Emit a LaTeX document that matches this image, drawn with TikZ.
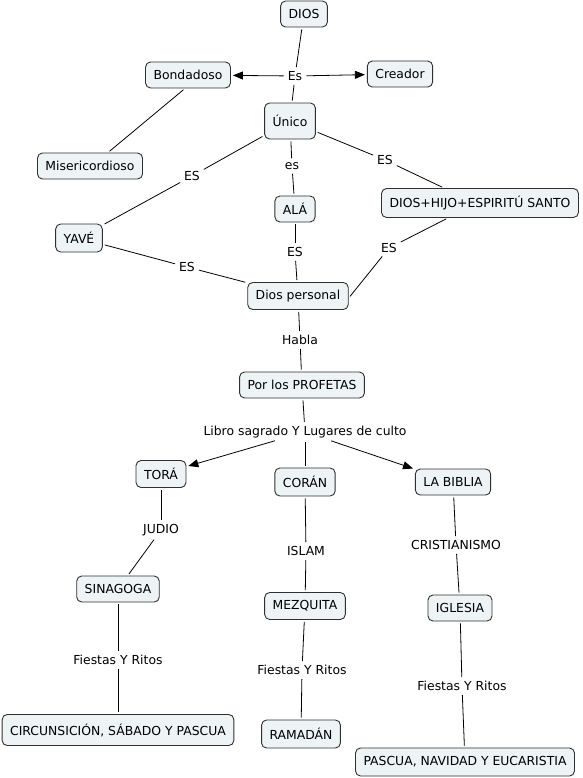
\documentclass[tikz,border=0pt]{standalone}
\usepackage{fontspec}
\setmainfont{DejaVu Sans}
\usetikzlibrary{arrows.meta}
\definecolor{boxfill}{HTML}{EEF3F5}
\definecolor{boxline}{HTML}{303030}
\tikzset{
  concept/.style={draw=boxline, fill=boxfill, rounded corners=5pt, line width=0.9pt,
    inner xsep=8pt, minimum height=26pt, font=\fontsize{12.4}{14}\selectfont, text=black},
  linklabel/.style={inner sep=2pt, font=\fontsize{12.4}{14}\selectfont, text=black},
  link/.style={draw=black, line width=0.8pt, shorten <=2pt, shorten >=2pt},
  arrowlink/.style={link, -{Triangle[length=10pt,width=8pt]}}
}
\begin{document}
\begin{tikzpicture}[x=1pt,y=-1pt]
\useasboundingbox (0,0) rectangle (582,778);
% concepts
\node[concept] (dios) at (304,14) {DIOS};
\node[concept] (bond) at (188,75) {Bondadoso};
\node[concept] (crea) at (400,74) {Creador};
\node[concept, minimum height=36pt] (unico) at (290,121) {Único};
\node[concept] (miser) at (90,166) {Misericordioso};
\node[concept, minimum height=28pt] (yave) at (79,238) {YAVÉ};
\node[concept] (ala) at (295,209) {ALÁ};
\node[concept, minimum height=29pt] (trin) at (480,203) {DIOS+HIJO+ESPIRITÚ SANTO};
\node[concept, minimum height=27pt] (dper) at (298,296) {Dios personal};
\node[concept] (prof) at (302,385) {Por los PROFETAS};
\node[concept, minimum height=27pt] (tora) at (161,474) {TORÁ};
\node[concept, minimum height=28pt] (coran) at (305,482) {CORÁN};
\node[concept] (biblia) at (453,482) {LA BIBLIA};
\node[concept] (sina) at (118,589) {SINAGOGA};
\node[concept, minimum height=27pt] (mezq) at (305,606) {MEZQUITA};
\node[concept] (igle) at (460,608) {IGLESIA};
\node[concept, minimum height=31pt] (circ) at (118,730) {CIRCUNSICIÓN, SÁBADO Y PASCUA};
\node[concept, minimum height=28pt] (rama) at (301,734) {RAMADÁN};
\node[concept, minimum height=28pt] (pasc) at (465,762) {PASCUA, NAVIDAD Y EUCARISTIA};
% link labels
\node[linklabel] (lEs) at (295,76) {Es};
\node[linklabel] (les) at (292,166) {es};
\node[linklabel] (lEStrin) at (385,160) {ES};
\node[linklabel] (lESyave) at (192,176) {ES};
\node[linklabel] (lESala) at (295,252) {ES};
\node[linklabel] (lESyp) at (187,267) {ES};
\node[linklabel] (lEStp) at (389,248) {ES};
\node[linklabel] (lhabla) at (300,340) {Habla};
\node[linklabel] (llibro) at (305,432) {Libro sagrado Y Lugares de culto};
\node[linklabel] (ljud) at (161,530) {JUDIO};
\node[linklabel] (lisl) at (306,551) {ISLAM};
\node[linklabel] (lcri) at (456,545) {CRISTIANISMO};
\node[linklabel] (lfr1) at (118,660) {Fiestas Y Ritos};
\node[linklabel] (lfr2) at (302,670) {Fiestas Y Ritos};
\node[linklabel] (lfr3) at (462,686) {Fiestas Y Ritos};
% connectors
\draw[link] (dios) -- (lEs);
\draw[link] (lEs) -- (unico);
\draw[arrowlink] (lEs) -- (bond);
\draw[arrowlink] (lEs) -- (crea);
\draw[link] ([xshift=-3pt]bond.south) -- ([xshift=18pt]miser.north);
\draw[link] (unico) -- (les);
\draw[link] (les) -- (ala);
\draw[link] (unico) -- (lEStrin);
\draw[link] (lEStrin) -- ([xshift=-36pt]trin.north);
\draw[link] (unico) -- (lESyave);
\draw[link] (lESyave) -- (yave);
\draw[link] (ala) -- (lESala);
\draw[link] (lESala) -- (dper);
\draw[link] (yave) -- (lESyp);
\draw[link] (lESyp) -- (dper);
\draw[link] ([xshift=-32pt]trin.south) -- (lEStp);
\draw[link] (lEStp) -- ([yshift=-2pt]dper.east);
\draw[link] (dper) -- (lhabla);
\draw[link] (lhabla) -- (prof);
\draw[link] (prof) -- (llibro);
\draw[arrowlink] (llibro) -- (tora);
\draw[link] (llibro) -- (coran);
\draw[arrowlink] (llibro) -- (biblia);
\draw[link] (tora) -- (ljud);
\draw[link] (ljud) -- (sina);
\draw[link] (coran) -- (lisl);
\draw[link] (lisl) -- (mezq);
\draw[link] (biblia) -- (lcri);
\draw[link] (lcri) -- (igle);
\draw[link] (sina) -- (lfr1);
\draw[link] (lfr1) -- (circ);
\draw[link] (mezq) -- (lfr2);
\draw[link] (lfr2) -- (rama);
\draw[link] (igle) -- (lfr3);
\draw[link] (lfr3) -- (pasc);
\end{tikzpicture}
\end{document}
